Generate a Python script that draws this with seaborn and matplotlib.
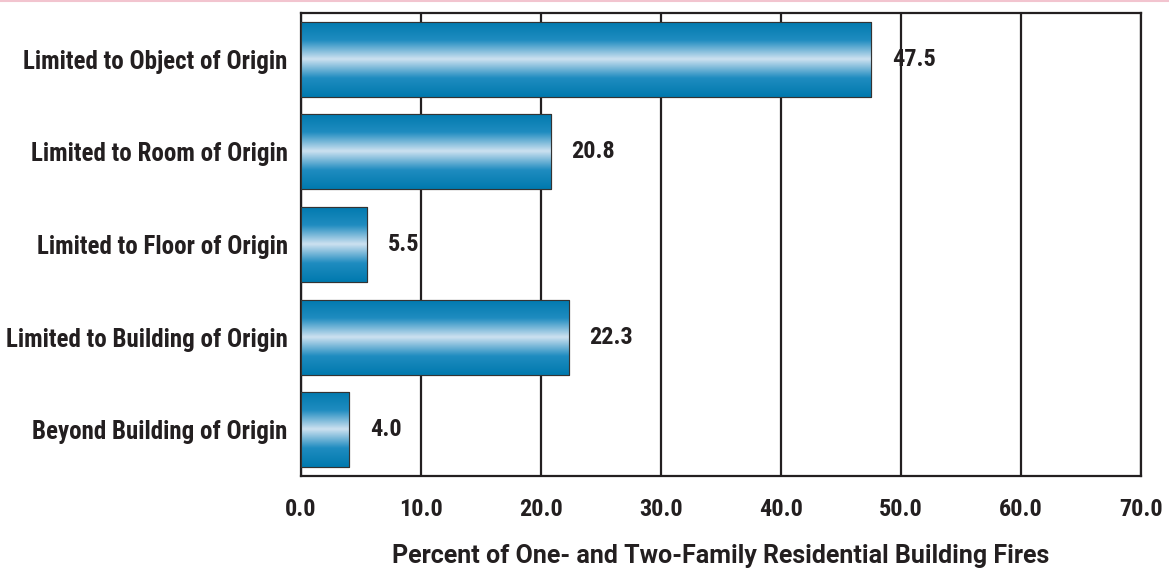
import numpy as np
import matplotlib
matplotlib.use("Agg")
import matplotlib.pyplot as plt
from matplotlib.colors import LinearSegmentedColormap
from matplotlib.lines import Line2D
import seaborn as sns
import pandas as pd

categories = [
    "Limited to Object of Origin",
    "Limited to Room of Origin",
    "Limited to Floor of Origin",
    "Limited to Building of Origin",
    "Beyond Building of Origin",
]
percents = [47.5, 20.8, 5.5, 22.3, 4.0]
xticks = [0, 10, 20, 30, 40, 50, 60, 70]
xlabel = "Percent of One- and Two-Family Residential Building Fires"

df = pd.DataFrame({"category": categories, "percent": percents})

sns.set_theme(style="white")
plt.rcParams["font.family"] = ["Roboto Condensed", "DejaVu Sans"]

INK = "#231f20"
WIDE = ["Roboto", "DejaVu Sans"]
COND = ["Roboto Condensed", "DejaVu Sans"]

fig = plt.figure(figsize=(11.69, 5.69), dpi=100)
ax = fig.add_axes([0.2575, 0.1634, 0.976 - 0.2575, 0.9772 - 0.1634])

sns.barplot(data=df, y="category", x="percent", orient="h", ax=ax,
            width=0.81, color="#0a7db0", edgecolor="#333333", linewidth=0.8,
            zorder=3)

# vertical steel-blue gradient inside each bar
grad_cmap = LinearSegmentedColormap.from_list(
    "steel", ["#0079ae", "#1f8cc0", "#cde1f0", "#1f8cc0", "#0079ae"])
grad = np.linspace(0, 1, 256).reshape(-1, 1)
for patch in list(ax.patches):
    x0, y0 = patch.get_x(), patch.get_y()
    w, h = patch.get_width(), patch.get_height()
    im = ax.imshow(grad, cmap=grad_cmap, aspect="auto",
                   extent=(x0, x0 + w, y0 + h, y0), zorder=3.5,
                   interpolation="bicubic")
    im.set_clip_path(patch)
    outline = plt.Rectangle((x0, y0), w, h, fill=False,
                            edgecolor="#333333", linewidth=0.8, zorder=4)
    ax.add_patch(outline)

for i, v in enumerate(percents):
    ax.text(v + 1.75, i, f"{v:.1f}", va="center", ha="left",
            fontsize=17.5, fontweight="bold", color=INK, zorder=5,
            family=COND)

ax.set_xlim(0, 70)
ax.set_ylim(len(categories) - 0.5, -0.5)
ax.set_xticks(xticks)
ax.set_xticklabels([f"{t:.1f}" for t in xticks], fontsize=17.5,
                   fontweight="bold", color=INK, family=COND)
ax.set_yticks(range(len(categories)))
ax.set_yticklabels(categories, fontsize=18, fontweight="bold", color=INK,
                   family=COND)
ax.set_yticks(np.arange(-0.5, len(categories), 1), minor=True)
ax.tick_params(axis="y", which="major", length=0, pad=9.5)
ax.tick_params(axis="y", which="minor", length=15, width=1.6,
               color=INK, direction="out")
ax.tick_params(axis="x", which="major", length=12, width=1.6,
               color=INK, direction="out", pad=4)

ax.set_xlabel(xlabel, fontsize=18, fontweight="bold", color=INK,
              family=WIDE)
ax.xaxis.label.set_va("baseline")
ax.xaxis.set_label_coords(0.5, -0.188)
ax.set_ylabel("")

ax.grid(axis="x", color=INK, linewidth=1.6, zorder=1)
ax.set_axisbelow(True)
for s in ax.spines.values():
    s.set_visible(True)
    s.set_color(INK)
    s.set_linewidth(1.6)

# thin rule along the top of the page
fig.add_artist(Line2D([0, 1], [0.998, 0.998], color="#f2c4cf",
                      linewidth=1.5, transform=fig.transFigure))

fig.savefig("out.png", dpi=100)
